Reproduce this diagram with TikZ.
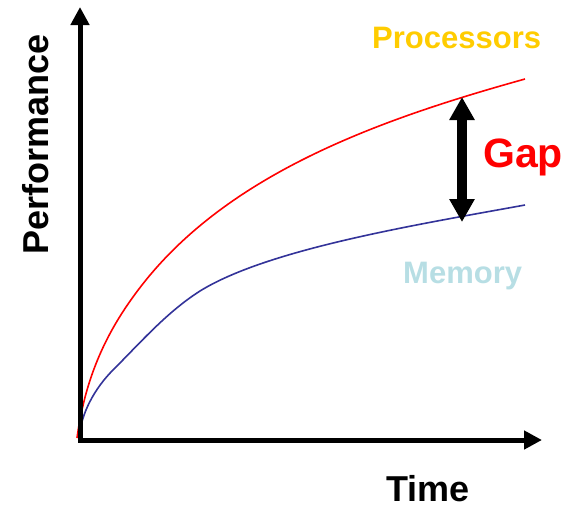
\documentclass[tikz,border=0pt]{standalone}
\usepackage{fontspec}
\setmainfont{Liberation Sans}
\usetikzlibrary{arrows.meta}

\definecolor{procyellow}{RGB}{255,204,0}
\definecolor{memblue}{RGB}{183,222,228}
\definecolor{memline}{RGB}{51,51,153}

\begin{document}
\begin{tikzpicture}[x=1pt,y=-1pt,
    label/.style={inner sep=0pt,anchor=base west,font=\bfseries},
    axis/.style={line width=5pt,line join=miter,
        {Triangle[length=18pt,width=18pt]}-{Triangle[length=18pt,width=18pt]}},
    gaparrow/.style={line width=10pt,
        {Triangle[length=23pt,width=24pt]}-{Triangle[length=23pt,width=24pt]}}]
    \useasboundingbox (0,0) rectangle (564,507);

    % Nodes
    \coordinate (ytip) at (80,7);
    \coordinate (origin) at (80,440);
    \coordinate (xtip) at (542,440);
    \coordinate (gaptop) at (462,97);
    \coordinate (gapbot) at (462,222);

    \node[label,rotate=90] (perf) at (48,255) {\fontsize{36pt}{36pt}\selectfont Performance};
    \node[label] (time) at (386,501) {\fontsize{36pt}{36pt}\selectfont Time};
    \node[label,text=procyellow] (proc) at (372,48) {\fontsize{31pt}{31pt}\selectfont Processors};
    \node[label,text=memblue] (mem) at (403,283) {\fontsize{31pt}{31pt}\selectfont Memory};
    \node[label,text=red] (gap) at (483,167) {\fontsize{41pt}{41pt}\selectfont Gap};

    % Curves
    \draw[red,line width=1.6pt] (77,438) .. controls (86,372) and (110,326) .. (142,285)
        .. controls (231,171) and (385,118) .. (525,79);
    \draw[memline,line width=1.6pt] (79,438) .. controls (81,413) and (95,388) .. (113,370)
        .. controls (141,342) and (167,312) .. (200,291)
        .. controls (268,249) and (415,225) .. (525,205);

    % Lines
    \draw[axis] (ytip) -- (origin) -- (xtip);
    \draw[gaparrow] (gaptop) -- (gapbot);
\end{tikzpicture}
\end{document}
